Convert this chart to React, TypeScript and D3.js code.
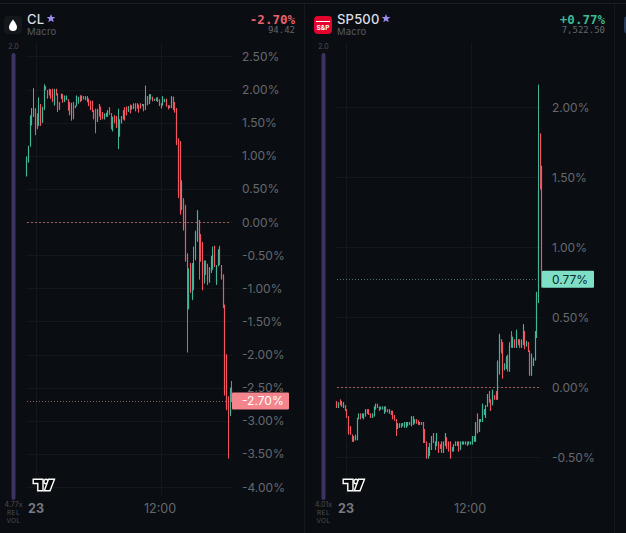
import React from "react";
import * as d3 from "d3";

type C = [number, number, number, number];

const clTicks = [2.5, 2, 1.5, 1, 0.5, 0, -0.5, -1, -1.5, -2, -2.5, -3, -3.5, -4];
const spTicks = [2, 1.5, 1, 0.5, 0, -0.5];

// open, high, low, close (% change)
const clCandles: C[] = [
  [.69,.99,.69,.97],[.90,1.15,.90,1.13],[1.14,1.61,1.14,1.60],[1.46,1.72,1.46,1.61],[1.59,2.02,1.59,1.72],
  [1.70,1.72,1.31,1.38],[1.62,1.64,1.40,1.42],[1.45,1.88,1.45,1.76],[1.76,1.78,1.45,1.46],[1.50,1.74,1.50,1.72],
  [1.72,2.08,1.69,2.03],[2.05,2.05,1.99,1.99],[1.99,1.99,1.86,1.87],[2.01,2.01,1.91,1.92],[2.0,2.0,1.86,1.87],
  [2.01,2.01,1.81,1.82],[1.76,2.01,1.76,1.94],[2.01,2.01,1.91,1.92],[1.94,1.94,1.66,1.69],[1.81,1.81,1.69,1.70],
  [1.86,1.94,1.86,1.93],[1.93,1.93,1.80,1.81],[1.81,1.91,1.81,1.90],[1.84,1.91,1.84,1.90],[1.85,1.85,1.68,1.69],
  [1.81,1.81,1.61,1.62],[1.62,1.80,1.53,1.78],[1.81,1.81,1.55,1.56],[1.72,1.76,1.72,1.75],[1.75,1.91,1.75,1.90],
  [1.79,1.89,1.79,1.88],[1.91,1.91,1.81,1.82],[1.83,1.91,1.83,1.90],[1.90,1.90,1.85,1.86],[1.84,1.90,1.84,1.89],
  [1.81,1.90,1.81,1.89],[1.86,1.86,1.75,1.76],[1.83,1.83,1.69,1.70],[1.83,1.83,1.66,1.67],[1.69,1.69,1.55,1.56],
  [1.69,1.71,1.34,1.51],[1.51,1.71,1.51,1.70],[1.78,1.78,1.59,1.60],[1.74,1.74,1.54,1.55],[1.66,1.66,1.55,1.56],
  [1.55,1.64,1.55,1.63],[1.59,1.65,1.59,1.64],[1.59,1.69,1.59,1.68],[1.73,1.73,1.62,1.63],[1.64,1.64,1.40,1.41],
  [1.37,1.59,1.37,1.58],[1.61,1.61,1.49,1.50],[1.60,1.60,1.42,1.43],[1.44,1.71,1.10,1.58],[1.29,1.55,1.29,1.54],
  [1.49,1.60,1.49,1.59],[1.55,1.69,1.55,1.68],[1.73,1.73,1.53,1.54],[1.74,1.74,1.61,1.62],[1.66,1.75,1.66,1.74],
  [1.77,1.77,1.64,1.65],[1.70,1.76,1.70,1.75],[1.71,1.79,1.71,1.78],[1.79,1.79,1.67,1.68],[1.79,1.79,1.71,1.72],
  [1.77,1.77,1.65,1.66],[1.79,1.79,1.71,1.72],[1.75,1.78,1.75,1.77],[1.78,1.78,1.67,1.68],[1.76,2.06,1.69,1.90],
  [1.90,1.90,1.76,1.77],[1.78,1.93,1.78,1.92],[1.85,1.93,1.85,1.92],[1.89,1.89,1.82,1.83],[1.83,1.86,1.83,1.85],
  [1.83,1.88,1.83,1.87],[1.88,1.88,1.81,1.82],[1.85,1.85,1.75,1.76],[1.79,1.79,1.71,1.72],[1.76,1.90,1.76,1.89],
  [1.81,1.86,1.81,1.85],[1.86,1.86,1.74,1.75],[1.76,1.76,1.70,1.71],[1.72,1.76,1.72,1.75],[1.72,1.90,1.72,1.89],
  [1.89,1.89,1.69,1.70],[1.81,1.81,1.65,1.66],[1.72,1.72,1.16,1.18],
  [1.26,1.26,.36,.40],[1.22,1.22,.11,.13],[.18,.63,.18,.60],[.34,.36,-.13,-.10],[.24,.26,-.60,-.58],
  [-.50,-.47,-1.97,-.70],[-1.30,-.70,-1.32,-.75],[-.62,-.62,-1.07,-1.05],[-1.15,-.62,-1.18,-.65],[-1.0,-.37,-1.03,-.62],
  [-.55,-.13,-.58,-.15],[-.28,.18,-.30,.16],[.03,.03,-.87,-.30],[-.20,-.18,-.60,-.58],[-.32,-.30,-1.03,-.80],
  [-.90,-.58,-.93,-.60],[-.60,-.58,-.80,-.78],[-.65,-.63,-.95,-.90],[-.90,-.68,-.92,-.70],[-.75,-.51,-.77,-.55],
  [-.70,-.37,-.72,-.50],[-.36,-.36,-.68,-.66],[-.92,-.65,-.95,-.67],[-.65,-.41,-.67,-.45],[-.38,-.36,-.65,-.63],
  [-.65,-.65,-.87,-.85],[-.80,-.79,-1.30,-1.28],[-1.25,-1.25,-2.62,-2.60],[-2.0,-2.0,-2.84,-2.82],[-2.65,-2.63,-3.57,-2.80],
  [-2.90,-2.50,-2.93,-2.55],[-2.50,-2.40,-2.72,-2.70],
];

const spCandles: C[] = [
  [-.10,-.10,-.15,-.15],[-.15,-.11,-.15,-.11],[-.09,-.09,-.13,-.13],[-.10,-.10,-.14,-.14],[-.15,-.11,-.15,-.11],
  [-.13,-.13,-.17,-.17],[-.16,-.16,-.22,-.22],[-.21,-.21,-.34,-.33],[-.28,-.28,-.34,-.34],[-.34,-.34,-.39,-.39],
  [-.39,-.35,-.39,-.35],[-.38,-.34,-.38,-.35],[-.38,-.22,-.38,-.23],[-.23,-.19,-.23,-.19],[-.19,-.19,-.23,-.23],
  [-.22,-.19,-.22,-.19],[-.23,-.19,-.23,-.19],[-.21,-.16,-.21,-.16],[-.16,-.16,-.19,-.19],[-.16,-.16,-.20,-.20],
  [-.19,-.19,-.22,-.22],[-.22,-.19,-.22,-.19],[-.21,-.14,-.21,-.14],[-.16,-.12,-.16,-.12],[-.12,-.12,-.15,-.15],
  [-.14,-.14,-.17,-.17],[-.16,-.14,-.16,-.15],[-.16,-.14,-.16,-.14],[-.19,-.14,-.19,-.14],[-.14,-.14,-.18,-.18],
  [-.16,-.16,-.18,-.18],[-.19,-.16,-.19,-.16],[-.17,-.17,-.20,-.20],[-.17,-.17,-.23,-.23],[-.20,-.20,-.24,-.24],
  [-.23,-.23,-.35,-.25],[-.30,-.26,-.30,-.26],[-.29,-.26,-.29,-.26],[-.26,-.26,-.29,-.29],[-.28,-.26,-.28,-.26],
  [-.29,-.25,-.29,-.25],[-.29,-.25,-.29,-.25],[-.28,-.25,-.28,-.25],[-.27,-.25,-.27,-.25],[-.28,-.21,-.28,-.21],
  [-.27,-.21,-.27,-.21],[-.26,-.23,-.26,-.23],[-.23,-.23,-.26,-.26],[-.24,-.24,-.27,-.27],[-.27,-.25,-.27,-.25],
  [-.25,-.25,-.27,-.27],[-.25,-.25,-.40,-.32],[-.30,-.30,-.40,-.40],[-.39,-.39,-.51,-.51],[-.51,-.43,-.51,-.43],
  [-.49,-.40,-.49,-.40],[-.45,-.35,-.45,-.35],[-.33,-.33,-.40,-.40],[-.45,-.39,-.45,-.39],[-.42,-.33,-.42,-.33],
  [-.39,-.39,-.47,-.47],[-.41,-.41,-.44,-.44],[-.39,-.39,-.47,-.47],[-.47,-.39,-.47,-.39],[-.42,-.33,-.42,-.33],
  [-.36,-.36,-.44,-.44],[-.39,-.39,-.46,-.46],[-.39,-.39,-.51,-.51],[-.46,-.43,-.46,-.43],[-.46,-.41,-.46,-.41],
  [-.42,-.39,-.42,-.39],[-.42,-.39,-.42,-.39],[-.39,-.39,-.46,-.46],[-.45,-.39,-.45,-.39],[-.41,-.39,-.41,-.39],
  [-.41,-.39,-.41,-.39],[-.41,-.39,-.41,-.39],[-.39,-.39,-.42,-.42],[-.41,-.39,-.41,-.39],[-.41,-.39,-.41,-.39],
  [-.41,-.35,-.41,-.35],[-.39,-.35,-.39,-.35],[-.39,-.25,-.39,-.25],[-.19,-.19,-.33,-.33],[-.32,-.23,-.32,-.23],
  [-.25,-.23,-.25,-.23],[-.25,-.12,-.25,-.12],[-.20,-.16,-.20,-.16],[-.22,-.13,-.22,-.13],[-.14,-.05,-.14,-.05],
  [-.03,-.03,-.11,-.11],[-.09,-.09,-.17,-.17],[-.13,-.02,-.13,-.02],[-.06,-.06,-.09,-.09],[-.03,-.03,-.09,-.09],
  [-.09,.19,-.09,.18],[.09,.38,.09,.37],[.34,.34,.24,.25],[.32,.32,.06,.12],[.12,.17,.12,.16],
  [.13,.22,.13,.21],[.23,.23,.11,.12],[.11,.32,.11,.30],[.38,.40,.28,.29],[.28,.36,.28,.35],
  [.34,.34,.28,.29],[.28,.41,.28,.39],[.34,.34,.30,.31],[.34,.34,.28,.29],[.28,.34,.28,.33],
  [.30,.45,.30,.44],[.40,.40,.27,.28],[.29,.33,.29,.32],[.32,.32,.25,.26],[.26,.26,.08,.09],
  [.08,.24,.08,.23],[.15,.21,.15,.20],[.19,.40,.19,.39],[.35,.68,.35,.67],[.70,2.16,.60,1.41],
  [1.81,1.81,1.41,1.42],[1.58,1.58,.71,.77],
];

const UP = "#41b598";
const DOWN = "#f2555f";
const AXIS = "#65696f";
const GRID = "#14181d";
const FONT = "Inter, 'Noto Sans', sans-serif";
const MONO = "'DejaVu Sans Mono', monospace";

function Candles({ data, x0, x1, y }: { data: C[]; x0: number; x1: number; y: d3.ScaleLinear<number, number> }) {
  const x = d3.scaleLinear().domain([0, data.length - 1]).range([x0, x1]);
  return (
    <g>
      {data.map(([o, h, l, c], i) => {
        const px = Math.round(x(i));
        const col = c >= o ? UP : DOWN;
        return (
          <g key={i} fill={col}>
            <rect x={px} y={y(h)} width={1} height={Math.max(1, y(l) - y(h))} />
            <rect x={px - 0.1} y={y(Math.max(o, c))} width={1.2} height={Math.max(1, Math.abs(y(o) - y(c)))} />
          </g>
        );
      })}
    </g>
  );
}

function TvLogo({ x, y }: { x: number; y: number }) {
  return (
    <g transform={`translate(${x},${y})`} fill="#050608" stroke="#fff" strokeWidth={1.4} strokeLinejoin="miter">
      <path d="M0.7 0.7H10.5V12.2H5.3V5H0.7Z" />
      <circle cx={13.5} cy={3} r={2.2} />
      <path d="M16 0.7H22L17.5 12.2H11.8Z" />
    </g>
  );
}

function Star({ x, y }: { x: number; y: number }) {
  const pts = d3.range(10).map((i) => {
    const r = i % 2 ? 2 : 4.6;
    const a = (i * Math.PI) / 5 - Math.PI / 2;
    return `${x + r * Math.cos(a)},${y + r * Math.sin(a)}`;
  });
  return <polygon points={pts.join(" ")} fill="#9d8cf0" />;
}

type PanelProps = {
  ox: number; name: string; starX: number; pct: string; pctColor: string; price: string; rel: string;
  ticks: number[]; candles: C[]; y: d3.ScaleLinear<number, number>; last: number;
  tagColor: string; tagText: string; tagFg: string; tagW: number; lastLine: string; gridEnd: number; labelX: number;
  icon: React.ReactNode;
};

function Panel(p: PanelProps) {
  const { ox, y } = p;
  const gx0 = ox + 26, gx1 = ox + p.gridEnd;
  return (
    <g>
      <rect x={ox + 11.5} y={53} width={4} height={447} rx={2} fill="#3d3363" />
      <text x={ox + 13.5} y={49} textAnchor="middle" fontSize={7} fill="#4a4d53" fontFamily={FONT}>2.0</text>
      <text x={ox + 13.5} y={507} textAnchor="middle" fontSize={7} fill="#4a4d53" fontFamily={FONT}>{p.rel}</text>
      <text x={ox + 13.5} y={515} textAnchor="middle" fontSize={6.5} letterSpacing={0.4} fill="#4a4d53" fontFamily={FONT}>REL</text>
      <text x={ox + 13.5} y={523} textAnchor="middle" fontSize={6.5} letterSpacing={0.4} fill="#4a4d53" fontFamily={FONT}>VOL</text>

      {[ox + 36.5, ox + 161.5].map((gx) => (
        <line key={gx} x1={gx} x2={gx} y1={43} y2={495} stroke={GRID} />
      ))}
      {p.ticks.map((t) => (
        <g key={t}>
          <line x1={gx0} x2={gx1} y1={Math.round(y(t)) + 0.5} y2={Math.round(y(t)) + 0.5} stroke={GRID} />
          <text x={p.labelX} y={y(t) + 4.5} fontSize={12} fill={AXIS} fontFamily={FONT}>{t.toFixed(2)}%</text>
        </g>
      ))}
      <line x1={gx0 + 1} x2={gx1 - 2} y1={Math.round(y(0)) + 0.5} y2={Math.round(y(0)) + 0.5} stroke="#9c5a50" strokeDasharray="2 2" />
      <line x1={gx0 + 1} x2={gx1} y1={Math.round(y(p.last)) + 0.5} y2={Math.round(y(p.last)) + 0.5} stroke={p.lastLine} strokeDasharray="1 2" />

      <Candles data={p.candles} x0={ox + 26.3} x1={ox + 231.3} y={y} />

      <TvLogo x={ox + 32.5} y={478.5} />
      <text x={ox + 36} y={513} textAnchor="middle" fontSize={12.5} fontWeight={700} fill="#777b81" fontFamily={FONT}>23</text>
      <text x={ox + 160} y={513} textAnchor="middle" fontSize={12.5} fill={AXIS} fontFamily={FONT}>12:00</text>

      <rect x={ox + 232} y={y(p.last) - 8.5} width={p.tagW} height={17} rx={1} fill={p.tagColor} />
      <text x={ox + 242} y={y(p.last) + 4.5} fontSize={12} fill={p.tagFg} fontFamily={FONT}>{p.tagText}</text>

      {p.icon}
      <text x={ox + 27} y={24} fontSize={13} letterSpacing={0.2} fill="#dcdee2" fontFamily={FONT} fontWeight={500}>{p.name}</text>
      <Star x={p.starX} y={18.5} />
      <text x={ox + 27} y={35} fontSize={9.5} letterSpacing={0.2} fill="#575b62" fontFamily={FONT}>Macro</text>
      <text x={ox + 295} y={23.5} textAnchor="end" fontSize={12.5} fontWeight={700} fill={p.pctColor} fontFamily={MONO}>{p.pct}</text>
      <text x={ox + 295} y={33} textAnchor="end" fontSize={9} fill="#63676d" fontFamily={MONO}>{p.price}</text>
    </g>
  );
}

export default function App() {
  const yCl = d3.scaleLinear().domain([0, -4]).range([222, 487]);
  const ySp = d3.scaleLinear().domain([0, 2]).range([387, 107]);
  return (
    <svg width={626} height={533} style={{ position: "absolute", left: 0, top: 0, background: "#0a0d12" }}>
      <line x1={0} x2={626} y1={3.5} y2={3.5} stroke="#1b1e23" />
      <line x1={304.5} x2={304.5} y1={4} y2={533} stroke="#16191e" />
      <line x1={614.5} x2={614.5} y1={4} y2={533} stroke="#16191e" />
      <rect x={624} y={16} width={10} height={18} rx={4} fill="#2a3b57" />
      <Panel
        ox={0} name="CL" starX={51} pct="-2.70%" pctColor="#e8616b" price="94.42" rel="4.77x"
        ticks={clTicks} candles={clCandles} y={yCl} last={-2.7}
        tagColor="#f4858c" tagText="-2.70%" tagFg="#ffffff" tagW={57} lastLine="#8f5a58" gridEnd={232} labelX={242}
        icon={
          <g>
            <rect x={4} y={16} width={18} height={18} rx={4} fill="#14181d" />
            <path d="M13 19.5C13 19.5 9 24.5 9 27A4 4 0 0 0 17 27C17 24.5 13 19.5 13 19.5Z" fill="#fff" />
          </g>
        }
      />
      <Panel
        ox={310} name="SP500" starX={386} pct="+0.77%" pctColor="#3fb993" price="7,522.50" rel="4.01x"
        ticks={spTicks} candles={spCandles} y={ySp} last={0.77}
        tagColor="#7fdfc6" tagText="0.77%" tagFg="#0d2a25" tagW={52} lastLine="#4f6f68" gridEnd={231} labelX={552}
        icon={
          <g>
            <rect x={314} y={16} width={18} height={18} rx={4} fill="#e2032f" />
            <rect x={316} y={21} width={14} height={1} fill="#fff" />
            <text x={323} y={29.5} textAnchor="middle" fontSize={6.5} fontWeight={700} fill="#fff" fontFamily={FONT}>S&amp;P</text>
          </g>
        }
      />
    </svg>
  );
}
